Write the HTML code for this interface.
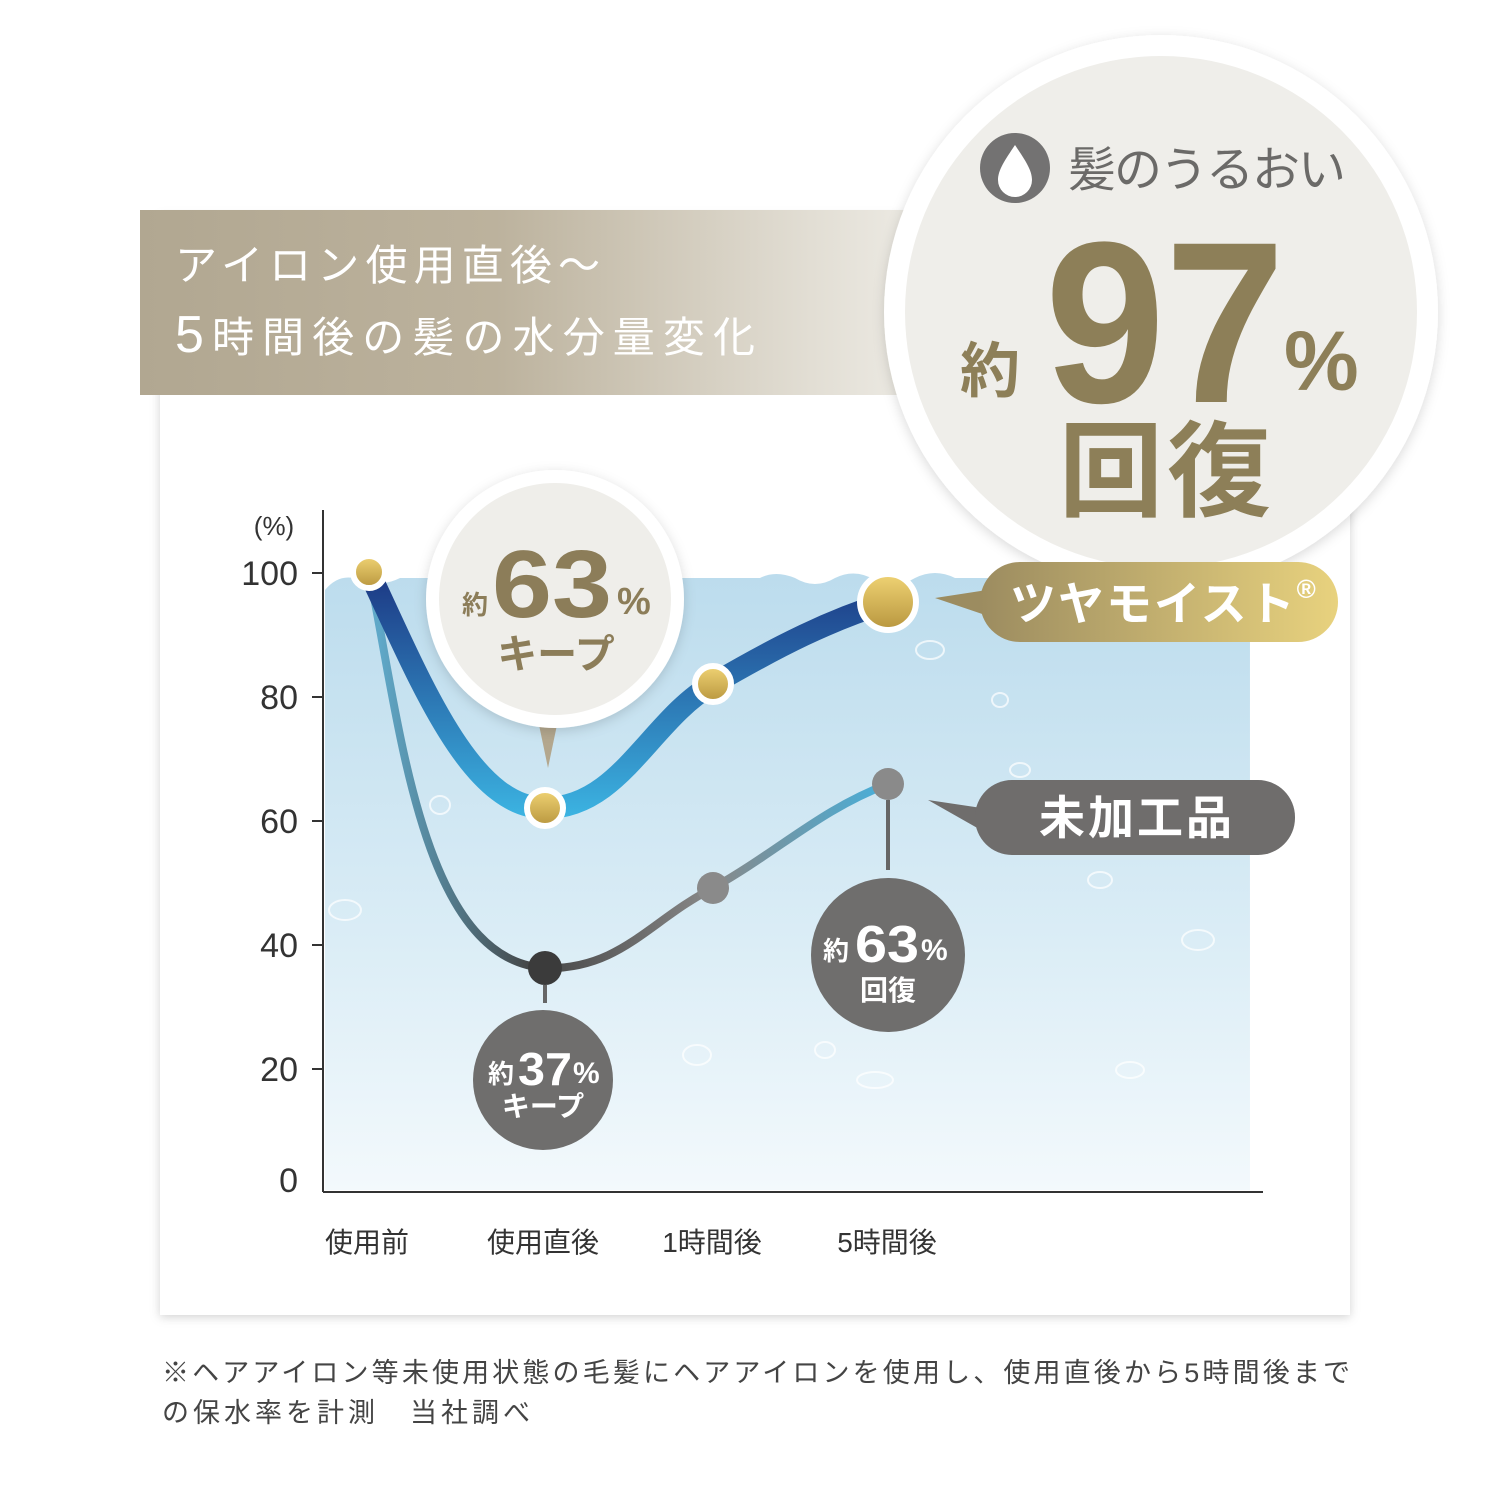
<!DOCTYPE html>
<html><head><meta charset="utf-8"><style>
html,body{margin:0;padding:0;background:#fff;}
body{width:1500px;height:1500px;position:relative;overflow:hidden;font-family:"Liberation Sans","Noto Sans CJK JP",sans-serif;}
</style></head><body>
<svg width="1500" height="1500" viewBox="0 0 1500 1500" xmlns="http://www.w3.org/2000/svg" style="position:absolute;left:0;top:0">
<defs>
<filter id="sh" x="-10%" y="-10%" width="120%" height="120%"><feDropShadow dx="0" dy="2" stdDeviation="5" flood-color="#000" flood-opacity="0.18"/></filter>
<filter id="sh2" x="-20%" y="-20%" width="140%" height="140%"><feDropShadow dx="0" dy="3" stdDeviation="6" flood-color="#000" flood-opacity="0.15"/></filter>
<linearGradient id="band" x1="0" x2="1" y1="0" y2="0"><stop offset="0" stop-color="#b1a791"/><stop offset="0.45" stop-color="#bcb29d"/><stop offset="0.85" stop-color="#e2ded4"/><stop offset="1" stop-color="#eeece6"/></linearGradient>
<linearGradient id="water" x1="0" y1="0" x2="0" y2="1"><stop offset="0" stop-color="#bcdced"/><stop offset="0.6" stop-color="#dbedf6"/><stop offset="1" stop-color="#f3f9fc"/></linearGradient>
<linearGradient id="wfade" x1="0" x2="1"><stop offset="0.9" stop-color="#fff" stop-opacity="0"/><stop offset="1" stop-color="#fff" stop-opacity="1"/></linearGradient>
<linearGradient id="blue" gradientUnits="userSpaceOnUse" x1="0" y1="580" x2="0" y2="820"><stop offset="0" stop-color="#1d3b86"/><stop offset="1" stop-color="#3cb5e3"/></linearGradient>
<linearGradient id="gray" gradientUnits="userSpaceOnUse" x1="380" y1="0" x2="890" y2="0"><stop offset="0" stop-color="#5fa8c8"/><stop offset="0.3" stop-color="#444"/><stop offset="0.65" stop-color="#888"/><stop offset="1" stop-color="#46b0dc"/></linearGradient>
<linearGradient id="gold" x1="0" y1="0" x2="0" y2="1"><stop offset="0" stop-color="#f0d374"/><stop offset="1" stop-color="#b8963e"/></linearGradient>
<linearGradient id="pill" x1="0" x2="1"><stop offset="0" stop-color="#9c8c60"/><stop offset="1" stop-color="#e8d27e"/></linearGradient>
</defs>
<rect x="160" y="215" width="1190" height="1100" fill="#fff" filter="url(#sh)"/>
<rect x="140" y="210" width="790" height="185" fill="url(#band)"/>
<text x="175" y="280" font-size="42" fill="#fff" textLength="425" lengthAdjust="spacing">アイロン使用直後～</text>
<text x="175" y="352" font-size="42" fill="#fff" textLength="580" lengthAdjust="spacing"><tspan font-size="52">5</tspan>時間後の髪の水分量変化</text>
<path d="M325 590 Q340 572 360 580 Q380 588 400 578 L760 578 Q775 570 795 578 Q815 590 835 578 Q855 568 875 580 Q895 590 915 578 Q935 568 955 578 L1250 578 L1250 1190 L325 1190 Z" fill="url(#water)"/>
<rect x="1150" y="570" width="110" height="625" fill="url(#wfade)"/>
<g fill="none" stroke="#fff" stroke-opacity="0.7" stroke-width="2">
<ellipse cx="930" cy="650" rx="14" ry="9"/><ellipse cx="345" cy="910" rx="16" ry="10"/><ellipse cx="697" cy="1055" rx="14" ry="10"/><ellipse cx="875" cy="1080" rx="18" ry="8"/><ellipse cx="1198" cy="940" rx="16" ry="10"/><ellipse cx="1100" cy="880" rx="12" ry="8"/><ellipse cx="1020" cy="770" rx="10" ry="7"/><ellipse cx="440" cy="805" rx="10" ry="9"/><ellipse cx="1130" cy="1070" rx="14" ry="8"/><ellipse cx="1000" cy="700" rx="8" ry="7"/><ellipse cx="825" cy="1050" rx="10" ry="8"/>
</g>
<g stroke="#333" stroke-width="2"><line x1="323" y1="510" x2="323" y2="1192"/><line x1="323" y1="1192" x2="1263" y2="1192"/>
<line x1="312" y1="573" x2="323" y2="573"/><line x1="312" y1="697" x2="323" y2="697"/><line x1="312" y1="821" x2="323" y2="821"/><line x1="312" y1="945" x2="323" y2="945"/><line x1="312" y1="1069" x2="323" y2="1069"/></g>
<g font-size="34" fill="#333" text-anchor="end"><text x="298" y="585">100</text><text x="298" y="709">80</text><text x="298" y="833">60</text><text x="298" y="957">40</text><text x="298" y="1081">20</text><text x="298" y="1192">0</text></g>
<text x="274" y="535" font-size="26" fill="#333" text-anchor="middle">(%)</text>
<g font-size="28" fill="#333" text-anchor="middle"><text x="367" y="1252">使用前</text><text x="543" y="1252">使用直後</text><text x="712" y="1252">1時間後</text><text x="887" y="1252">5時間後</text></g>
<path d="M369 572 C400 720 420 960 545 968 C620 970 650 920 713 888 C780 850 820 810 888 784" fill="none" stroke="url(#gray)" stroke-width="8"/>
<path d="M369 572 C420 680 470 808 545 808 C620 808 650 720 713 684 C780 645 830 620 888 602" fill="none" stroke="url(#blue)" stroke-width="22"/>
<line x1="545" y1="985" x2="545" y2="1003" stroke="#666" stroke-width="4"/>
<line x1="888" y1="800" x2="888" y2="870" stroke="#666" stroke-width="4"/>
<circle cx="545" cy="968" r="17" fill="#3b3b3b"/><circle cx="713" cy="888" r="16" fill="#8a8a8a"/><circle cx="888" cy="784" r="16" fill="#8a8a8a"/>
<g stroke="#fff" stroke-width="6" fill="url(#gold)"><circle cx="369" cy="572" r="16"/><circle cx="545" cy="808" r="18"/><circle cx="713" cy="684" r="18"/><circle cx="888" cy="602" r="28"/></g>
<path d="M538 720 L548 768 L558 720 Z" fill="#b3a78e"/>
<circle cx="555" cy="599" r="129" fill="#fff" filter="url(#sh2)"/>
<circle cx="555" cy="599" r="116" fill="#efeeea"/>
<g fill="#8c7d59" font-weight="bold"><text x="462" y="614" font-size="26">約</text><text x="492" y="617" font-size="96" textLength="120" lengthAdjust="spacingAndGlyphs">63</text><text x="617" y="614" font-size="38">%</text></g>
<text x="556" y="668" font-size="40" fill="#8c7d59" text-anchor="middle" font-weight="bold">キープ</text>
<circle cx="543" cy="1080" r="70" fill="#6f6e6d"/>
<g fill="#fff" font-weight="bold"><text x="488" y="1083" font-size="26">約</text><text x="518" y="1085" font-size="46" textLength="54" lengthAdjust="spacingAndGlyphs">37</text><text x="573" y="1083" font-size="30">%</text><text x="543" y="1116" font-size="28" text-anchor="middle">キープ</text></g>
<circle cx="888" cy="955" r="77" fill="#6f6e6d"/>
<g fill="#fff" font-weight="bold"><text x="823" y="960" font-size="26">約</text><text x="855" y="962" font-size="52" textLength="64" lengthAdjust="spacingAndGlyphs">63</text><text x="921" y="960" font-size="30">%</text><text x="888" y="1000" font-size="28" text-anchor="middle">回復</text></g>
<!-- big circle -->
<circle cx="1161" cy="312" r="277" fill="#fff" filter="url(#sh2)"/>
<circle cx="1161" cy="312" r="256" fill="#efeeea"/>
<circle cx="1015" cy="168" r="35" fill="#737272"/>
<path d="M1015 145 C1005 160 998 170 998 180 A17 17 0 0 0 1032 180 C1032 170 1025 160 1015 145 Z" fill="#fff"/>
<text x="1068" y="186" font-size="48" fill="#6b6a68" textLength="278" lengthAdjust="spacing">髪のうるおい</text>
<g fill="#8d7f58" font-weight="bold">
<text x="960" y="392" font-size="60">約</text>
<text x="1045" y="402" font-size="230" textLength="240" lengthAdjust="spacingAndGlyphs">97</text>
<text x="1284" y="390" font-size="84">%</text>
<text x="1167" y="508" font-size="104" text-anchor="middle" letter-spacing="4">回復</text>
</g>
<!-- tags -->
<path d="M935 598 L1000 588 L1000 620 Z" fill="#9c8c60"/>
<rect x="980" y="562" width="358" height="80" rx="40" fill="url(#pill)"/>
<text x="1010" y="620" font-size="46" fill="#fff" font-weight="bold" letter-spacing="2">ツヤモイスト<tspan font-size="26" dy="-22">®</tspan></text>
<path d="M928 800 L995 810 L995 838 Z" fill="#6f6d6c"/>
<rect x="975" y="780" width="320" height="75" rx="37" fill="#6f6d6c"/>
<text x="1137" y="834" font-size="46" fill="#fff" font-weight="bold" text-anchor="middle" letter-spacing="3">未加工品</text>
<g font-size="27" fill="#444"><text x="162" y="1382" textLength="1188" lengthAdjust="spacing">※ヘアアイロン等未使用状態の毛髪にヘアアイロンを使用し、使用直後から5時間後まで</text><text x="162" y="1422" textLength="368" lengthAdjust="spacing">の保水率を計測　当社調べ</text></g>
</svg>
</body></html>
